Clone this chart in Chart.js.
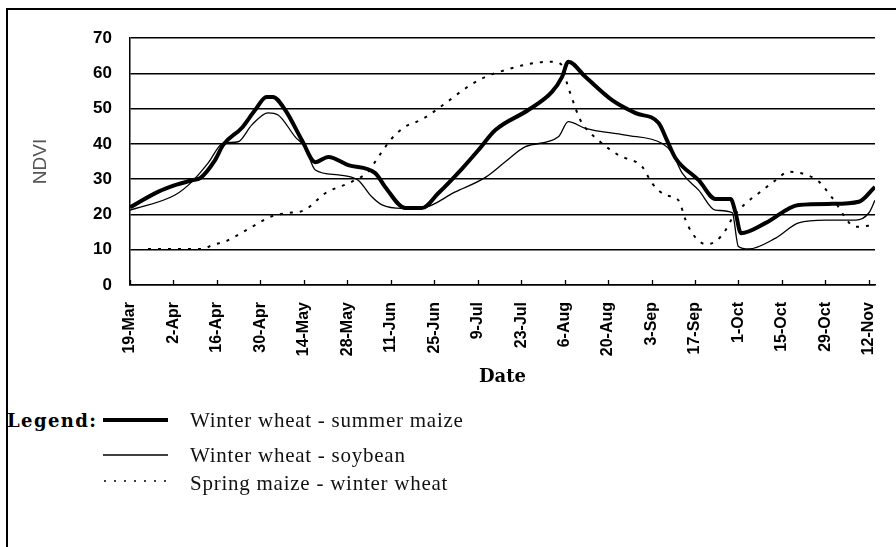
<!DOCTYPE html>
<html>
<head>
<meta charset="utf-8">
<script src="https://cdn.jsdelivr.net/npm/chart.js@4/dist/chart.umd.min.js"></script>
<style>
html,body{margin:0;padding:0;background:#fff;}
#wrap{position:relative;width:896px;height:547px;overflow:hidden;background:#fff;}
#frame{position:absolute;left:6px;top:8px;width:900px;height:600px;border-left:2px solid #000;border-top:2px solid #000;}
#cv{position:absolute;left:0;top:0;}
.lgt{position:absolute;font-family:'Liberation Serif','Times New Roman',serif;font-size:21px;line-height:21px;letter-spacing:0.75px;color:#111;white-space:nowrap;}
#lgh{position:absolute;left:7px;top:412px;font-family:'DejaVu Serif',serif;font-weight:bold;font-size:18px;line-height:18px;letter-spacing:1.4px;color:#000;white-space:nowrap;}
#samples{position:absolute;left:0;top:0;}
</style>
</head>
<body>
<div id="wrap">
  <div id="frame"></div>
  <canvas id="cv" width="896" height="400"></canvas>
  <div id="lgh">Legend:</div>
  <svg id="samples" width="896" height="547">
    <line x1="103" y1="420" x2="168" y2="420" stroke="#000" stroke-width="4"/>
    <line x1="103" y1="455" x2="168" y2="455" stroke="#000" stroke-width="1.4"/>
    <line x1="104" y1="481" x2="168" y2="481" stroke="#000" stroke-width="1.6" stroke-dasharray="2,8"/>
  </svg>
  <div class="lgt" style="left:190px;top:410px;">Winter wheat - summer maize</div>
  <div class="lgt" style="left:190px;top:445px;">Winter wheat - soybean</div>
  <div class="lgt" style="left:190px;top:473px;">Spring maize - winter wheat</div>
</div>
<script>
// x positions are days after 19-Mar
const tickDays = [0,14,28,42,56,70,84,98,112,126,140,154,168,182,196,210,224,238];
const tickLabels = ['19-Mar','2-Apr','16-Apr','30-Apr','14-May','28-May','11-Jun','25-Jun','9-Jul','23-Jul','6-Aug','20-Aug','3-Sep','17-Sep','1-Oct','15-Oct','29-Oct','12-Nov'];
const yTicks = [0,10,20,30,40,50,60,70];

// Winter wheat - summer maize
const daysA = [0,9,14.5,20,22.6,27.4,30,36,40.3,44,46,50,55.4,59.7,63.9,70.3,79,82.2,88.7,94,99.3,107,112.2,117.7,128.3,136,139.2,141.2,146.7,155.3,162.9,170.3,173,175.7,183.2,188.6,193.5,195.1,196.8,204.8,215.4,226.3,234.8,240];
const valsA = [22,26.4,28.3,29.7,30.3,35.4,39.7,44.5,49.6,53.3,53.3,49.6,41,34.8,36.3,34,31.7,27.8,21.8,21.8,26,33,38.2,43.9,49.6,54.8,59,63.3,59,52.4,48.7,45.9,41,36,29.7,24.4,24.4,20.4,14.7,17.6,22.7,23,23.6,27.8];

// Winter wheat - soybean
const daysB = [0,14.5,20,25.2,30,34.8,39.2,44.5,47.7,53.2,56.4,59.7,67.1,73.5,77.9,81.2,87.6,94,104.8,114.5,120.9,127.4,138,141.2,146.7,159.6,171.5,174.7,177.9,183.2,188.6,194,196,199.3,208,215.4,224.1,233.8,238,240];
const valsB = [21.2,25.5,29.3,34.6,40.2,40.6,45.3,48.8,48.2,42,39,32.6,31.2,29.7,25,22.7,21.7,21.8,26.4,30.5,34.9,39.2,42,46.3,44.4,42.5,40.1,37.4,31.7,26.9,21.2,20.5,10.9,10.2,13.3,17.6,18.4,18.4,20.4,24];

// Spring maize - winter wheat
const daysC = [5.8,23.5,26.4,30.6,34.8,40.3,45.7,50,56.4,62.9,71.5,76.7,80,84.4,88.7,94,101.6,108,114.5,120.9,128.3,136,139.2,140.8,142.4,145.1,150.9,157.4,165,168.2,172.5,176.7,179,181.1,185.4,188.6,191.9,194,198.3,202.5,208,212.2,216.6,221.9,226.3,233.8,240];
const valsC = [10.2,10.2,11.3,12.3,14.2,17,19.5,20.3,21.3,26,29.3,32.1,36.3,41.6,44.9,46.9,51.5,55.7,59,60.9,62.6,63.3,62.3,57.1,52.9,46.7,41,36.8,33.5,28.8,25.5,24,18.4,14.7,11.6,12.3,15.6,18.9,23.1,26,29.7,32.1,31.6,29.3,24.6,16.5,17];

const pts = (d, v) => d.map((x, i) => ({x: x, y: v[i]}));

const innerTicks = {
  id: 'innerTicks',
  beforeDatasetsDraw(chart) {
    const xs = chart.scales.x, ys = chart.scales.y, ctx = chart.ctx;
    const yb = ys.getPixelForValue(0);
    ctx.save();
    ctx.strokeStyle = '#000';
    ctx.lineWidth = 1.3;
    tickDays.forEach(d => {
      const px = Math.round(xs.getPixelForValue(d)) + 0.5;
      ctx.beginPath();
      ctx.moveTo(px, yb);
      ctx.lineTo(px, yb - 5);
      ctx.stroke();
    });
    ctx.restore();
  }
};

new Chart(document.getElementById('cv'), {
  type: 'line',
  data: {
    datasets: [
      {label: 'Winter wheat - summer maize', data: pts(daysA, valsA), borderColor: '#000', borderWidth: 4, pointRadius: 0, cubicInterpolationMode: 'monotone', fill: false},
      {label: 'Winter wheat - soybean', data: pts(daysB, valsB), borderColor: '#000', borderWidth: 1.3, pointRadius: 0, cubicInterpolationMode: 'monotone', fill: false},
      {label: 'Spring maize - winter wheat', data: pts(daysC, valsC), borderColor: '#000', borderWidth: 2, borderDash: [3, 7], pointRadius: 0, cubicInterpolationMode: 'monotone', fill: false}
    ]
  },
  options: {
    responsive: false,
    animation: false,
    events: [],
    layout: {padding: {left: 0, right: 21, top: 38, bottom: 5}},
    plugins: {legend: {display: false}, tooltip: {enabled: false}},
    scales: {
      x: {
        type: 'linear',
        min: 0, max: 240,
        afterBuildTicks: s => { s.ticks = tickDays.map(v => ({value: v})); },
        afterFit: s => { s.height = 110; s.paddingLeft = 0; s.paddingRight = 0; },
        grid: {display: false, drawTicks: false},
        border: {display: true, color: '#000', width: 1.5},
        ticks: {
          autoSkip: false, minRotation: 90, maxRotation: 90, padding: 17,
          color: '#000',
          font: {family: "'Liberation Sans', Arial, sans-serif", size: 16, weight: 'bold'},
          callback: (v, i) => tickLabels[i]
        },
        title: {display: true, text: 'Date', color: '#000', padding: {top: 0, bottom: 7},
          font: {family: "'DejaVu Serif', serif", size: 18, weight: 'bold'}}
      },
      y: {
        min: 0, max: 70,
        afterBuildTicks: s => { s.ticks = yTicks.map(v => ({value: v})); },
        afterFit: s => { s.width = 130; s.paddingTop = 0; s.paddingBottom = 0; },
        grid: {color: '#000', lineWidth: 1.5, drawTicks: false},
        border: {display: true, color: '#000', width: 1.5},
        ticks: {
          padding: 18, color: '#000',
          font: {family: "'Liberation Sans', Arial, sans-serif", size: 17, weight: 'bold'}
        },
        title: {display: true, text: 'NDVI', color: '#555', padding: {top: 29, bottom: 0},
          font: {family: "'Liberation Sans', Arial, sans-serif", size: 19}}
      }
    }
  },
  plugins: [innerTicks]
});
</script>
</body>
</html>
